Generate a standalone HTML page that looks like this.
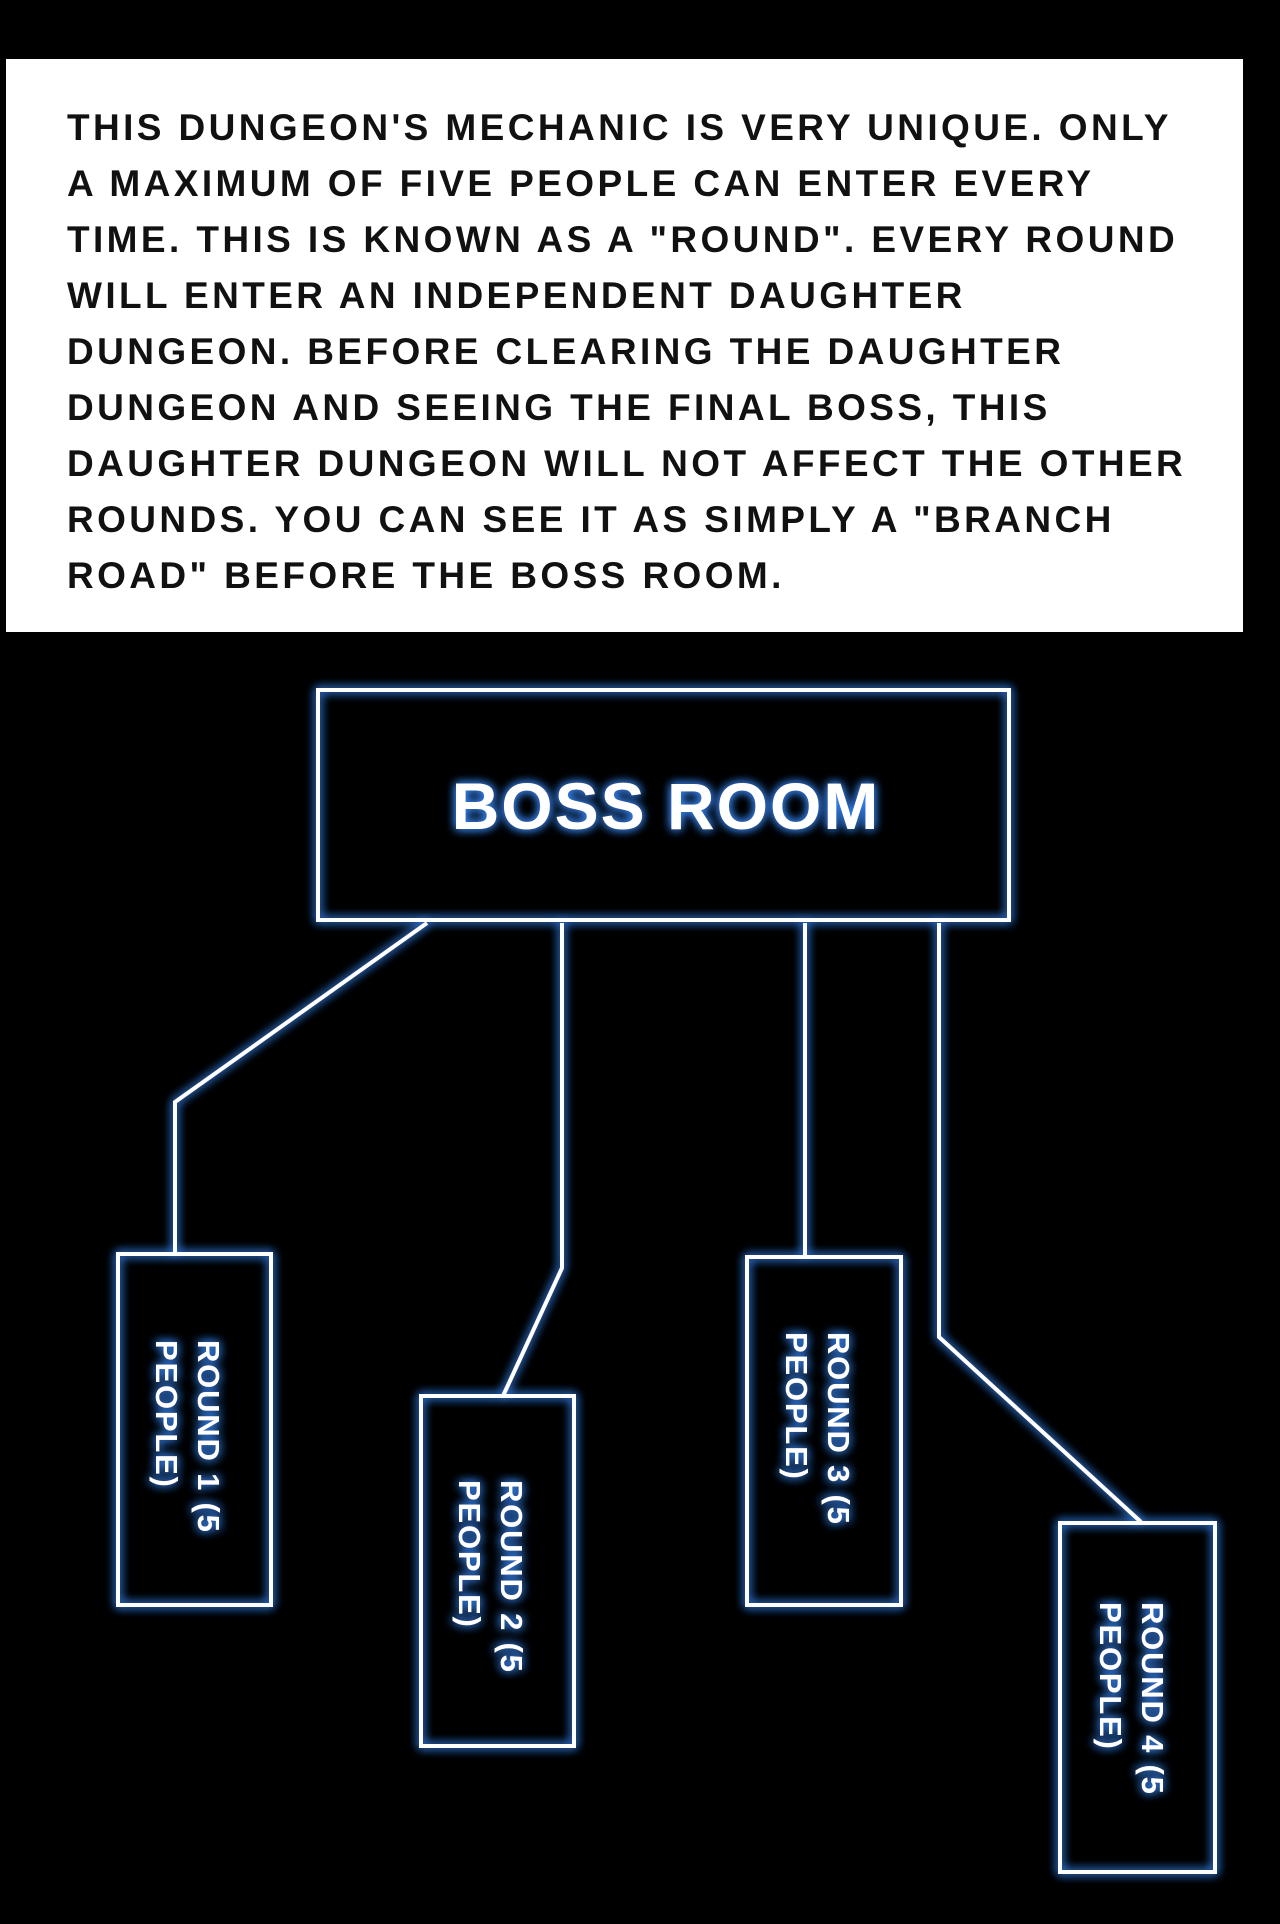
<!DOCTYPE html>
<html><head><meta charset="utf-8"><style>
html,body{margin:0;padding:0;background:#000;width:1280px;height:1924px;overflow:hidden}
.box{position:absolute;left:6px;top:59px;width:1237px;height:573px;background:#fff}
.txt{position:absolute;left:67px;top:100px;font-family:"Liberation Sans",sans-serif;font-size:37px;font-weight:bold;line-height:56px;color:#111;white-space:pre;letter-spacing:3.4px}
svg{position:absolute;left:0;top:0}
</style></head><body>
<div class="box"></div>
<div class="txt">THIS DUNGEON'S MECHANIC IS VERY UNIQUE. ONLY
A MAXIMUM OF FIVE PEOPLE CAN ENTER EVERY
TIME. THIS IS KNOWN AS A "ROUND". EVERY ROUND
WILL ENTER AN INDEPENDENT DAUGHTER
DUNGEON. BEFORE CLEARING THE DAUGHTER
DUNGEON AND SEEING THE FINAL BOSS, THIS
DAUGHTER DUNGEON WILL NOT AFFECT THE OTHER
ROUNDS. YOU CAN SEE IT AS SIMPLY A "BRANCH
ROAD" BEFORE THE BOSS ROOM.</div>
<svg width="1280" height="1924" viewBox="0 0 1280 1924">
<defs>
<filter id="g" x="-20%" y="-20%" width="140%" height="140%">
<feGaussianBlur in="SourceAlpha" stdDeviation="5" result="b"/>
<feFlood flood-color="#3a8cff" flood-opacity="0.9"/>
<feComposite in2="b" operator="in" result="c"/>
<feMerge><feMergeNode in="c"/><feMergeNode in="c"/><feMergeNode in="SourceGraphic"/></feMerge>
</filter>
</defs>
<g filter="url(#g)" stroke="#fff" stroke-width="4" fill="none">
<rect x="318" y="690" width="691" height="230"/>
<polyline points="427,923 175,1102 175,1254"/>
<polyline points="562,923 562,1268 503,1396"/>
<polyline points="805,923 805,1257"/>
<polyline points="939,923 939,1337 1141,1522"/>
<rect x="118" y="1254" width="153" height="351"/>
<rect x="421" y="1396" width="153" height="350"/>
<rect x="747" y="1257" width="154" height="348"/>
<rect x="1060" y="1523" width="155" height="349"/>
</g>
<g filter="url(#g)" fill="#fff" font-family="Liberation Sans, sans-serif" font-weight="bold">
<text x="666" y="829" font-size="66" text-anchor="middle" letter-spacing="2">BOSS ROOM</text>
<g font-size="31" letter-spacing="1.8">
<g transform="translate(198,1340) rotate(90)"><text x="0" y="0">ROUND 1 (5</text><text x="0" y="42">PEOPLE)</text></g>
<g transform="translate(501,1480) rotate(90)"><text x="0" y="0">ROUND 2 (5</text><text x="0" y="42">PEOPLE)</text></g>
<g transform="translate(828,1332) rotate(90)"><text x="0" y="0">ROUND 3 (5</text><text x="0" y="42">PEOPLE)</text></g>
<g transform="translate(1142,1602) rotate(90)"><text x="0" y="0">ROUND 4 (5</text><text x="0" y="42">PEOPLE)</text></g>
</g>
</g>
</svg>
</body></html>
